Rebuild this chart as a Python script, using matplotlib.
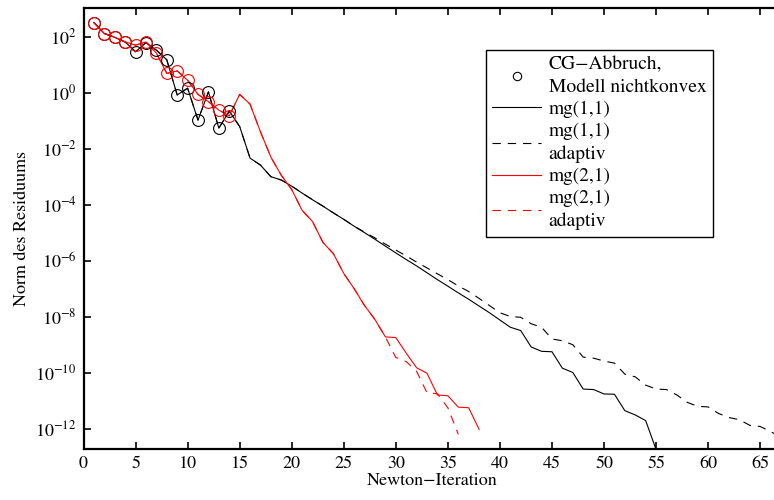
import matplotlib
matplotlib.use("Agg")
import matplotlib.pyplot as plt
from matplotlib.lines import Line2D
from matplotlib.ticker import NullLocator, FixedLocator

plt.rcParams['font.family'] = ['STIXGeneral', 'DejaVu Serif']
plt.rcParams['mathtext.fontset'] = 'stix'
plt.rcParams['lines.scale_dashes'] = False

# ---- data ----
iters_mg11 = list(range(1, 56))
mg11 = [3.2e2, 1.3e2, 9.5e1, 6.5e1, 2.9e1, 6.2e1, 3.3e1, 1.5e1, 8.3e-1, 1.45e0,
        1.05e-1, 1.07e0, 5.4e-2, 2.2e-1, 6.2e-2, 4.6e-3, 2.6e-3, 1.0e-3, 7.6e-4, 4.6e-4,
        2.6e-4, 1.5e-4, 8.9e-5, 5.1e-5, 3.0e-5, 1.7e-5, 1.0e-5, 5.8e-6, 3.3e-6, 1.9e-6,
        1.1e-6, 6.5e-7, 3.7e-7, 2.1e-7, 1.23e-7, 7.1e-8, 4.2e-8, 2.4e-8, 1.38e-8, 7.6e-9,
        4.2e-9, 3.2e-9, 8.3e-10, 5.8e-10, 5.6e-10, 1.45e-10, 1.02e-10, 2.6e-11, 2.5e-11, 1.74e-11,
        1.7e-11, 4.4e-12, 3.1e-12, 1.95e-12, 1.8e-13]

# adaptive variant: identical to mg11 for iterations 1..26, then:
iters_mg11_ad_tail = list(range(27, 68))
mg11_ad_tail = [1.05e-5, 6.5e-6, 3.9e-6, 2.4e-6, 1.48e-6, 8.9e-7, 5.5e-7, 3.4e-7, 2.1e-7, 1.26e-7,
                7.9e-8, 4.5e-8, 2.5e-8, 1.38e-8, 1.02e-8, 9.5e-9, 5.6e-9, 4.2e-9, 1.6e-9, 1.38e-9,
                1.0e-9, 3.6e-10, 3.3e-10, 2.6e-10, 2.2e-10, 8.9e-11, 7.1e-11, 3.6e-11, 2.6e-11, 2.5e-11,
                1.6e-11, 8.7e-12, 6.3e-12, 6.0e-12, 3.5e-12, 2.5e-12, 2.1e-12, 1.32e-12, 1.2e-12, 7.9e-13,
                5.0e-13]

iters_mg21 = list(range(1, 39))
mg21 = [3.2e2, 1.3e2, 9.5e1, 6.5e1, 5.0e1, 6.5e1, 2.6e1, 4.9e0, 6.0e0, 2.8e0,
        8.7e-1, 4.8e-1, 2.4e-1, 1.48e-1, 8.7e-1, 3.9e-1, 4.0e-2, 5.0e-3, 1.12e-3, 3.5e-4,
        6.3e-5, 2.5e-5, 4.5e-6, 1.8e-6, 3.5e-7, 1.0e-7, 2.5e-8, 7.9e-9, 1.9e-9, 1.8e-9,
        5.0e-10, 1.5e-10, 9.5e-11, 1.6e-11, 1.5e-11, 5.9e-12, 5.6e-12, 9.5e-13]

# adaptive variant: identical to mg21 for iterations 1..29, then:
iters_mg21_ad_tail = list(range(30, 37))
mg21_ad_tail = [3.5e-10, 2.5e-10, 1.12e-10, 1.9e-11, 1.78e-11, 5.6e-12, 6.3e-13]

# iterations where CG was aborted (non-convex model)
cg_iters = list(range(1, 15))

labels = ['CG\u2212Abbruch,\nModell nichtkonvex', 'mg(1,1)', 'mg(1,1)\nadaptiv',
          'mg(2,1)', 'mg(2,1)\nadaptiv']
xticks = list(range(0, 66, 5))
yticks = [1e-12, 1e-10, 1e-8, 1e-6, 1e-4, 1e-2, 1e0, 1e2]

# build full series
n11 = 26
iters_mg11_ad = iters_mg11[:n11] + iters_mg11_ad_tail
mg11_ad = mg11[:n11] + mg11_ad_tail
n21 = 29
iters_mg21_ad = iters_mg21[:n21] + iters_mg21_ad_tail
mg21_ad = mg21[:n21] + mg21_ad_tail

W, H = 774, 500
fig = plt.figure(figsize=(W / 100, H / 100), dpi=100)
ax = fig.add_axes([83.5 / W, (H - 449) / H, (781 - 83.5) / W, (449 - 8.3) / H])

lw = 0.8
dash = (6, 5)
ax.plot(iters_mg11_ad, mg11_ad, color='black', lw=lw, dashes=dash)
ax.plot(iters_mg11, mg11, color='black', lw=lw)
ax.plot(iters_mg21_ad, mg21_ad, color='red', lw=lw, dashes=dash)
ax.plot(iters_mg21, mg21, color='red', lw=lw)

ms = 8.5
ax.plot(cg_iters, [mg11[i - 1] for i in cg_iters], linestyle='none', marker='o',
        mfc='none', mec='black', ms=ms, mew=0.8)
ax.plot(cg_iters, [mg21[i - 1] for i in cg_iters], linestyle='none', marker='o',
        mfc='none', mec='red', ms=ms, mew=0.8)

ax.set_yscale('log')
ax.set_xlim(0, 67)
ax.set_ylim(10 ** -12.725, 10 ** 3.014)
ax.xaxis.set_major_locator(FixedLocator(xticks))
ax.yaxis.set_major_locator(FixedLocator(yticks))
ax.yaxis.set_minor_locator(NullLocator())
ax.xaxis.set_minor_locator(NullLocator())
ax.tick_params(direction='in', length=5, width=1.2, labelsize=13,
               top=True, right=True, pad=5)
for sp in ax.spines.values():
    sp.set_linewidth(1.6)

ax.set_xlabel('Newton\u2212Iteration', fontsize=13, labelpad=1)
ax.set_ylabel('Norm des Residuums', fontsize=13, labelpad=4)

handles = [
    Line2D([], [], linestyle='none', marker='o', mfc='none', mec='black', ms=6, mew=0.8),
    Line2D([], [], color='black', lw=lw),
    Line2D([], [], color='black', lw=lw, dashes=dash),
    Line2D([], [], color='red', lw=lw),
    Line2D([], [], color='red', lw=lw, dashes=dash),
]
leg = ax.legend(handles, labels, loc='upper left',
                bbox_to_anchor=(486 / W, 1 - 50 / H), bbox_transform=fig.transFigure,
                borderaxespad=0, fontsize=14, fancybox=False, framealpha=1,
                edgecolor='black', handlelength=2.5, handletextpad=0.4,
                labelspacing=0.24, borderpad=0.32)
for t in leg.get_texts():
    t.set_linespacing(1.4)
leg.get_frame().set_linewidth(1.0)

fig.savefig('out.png', dpi=100)
